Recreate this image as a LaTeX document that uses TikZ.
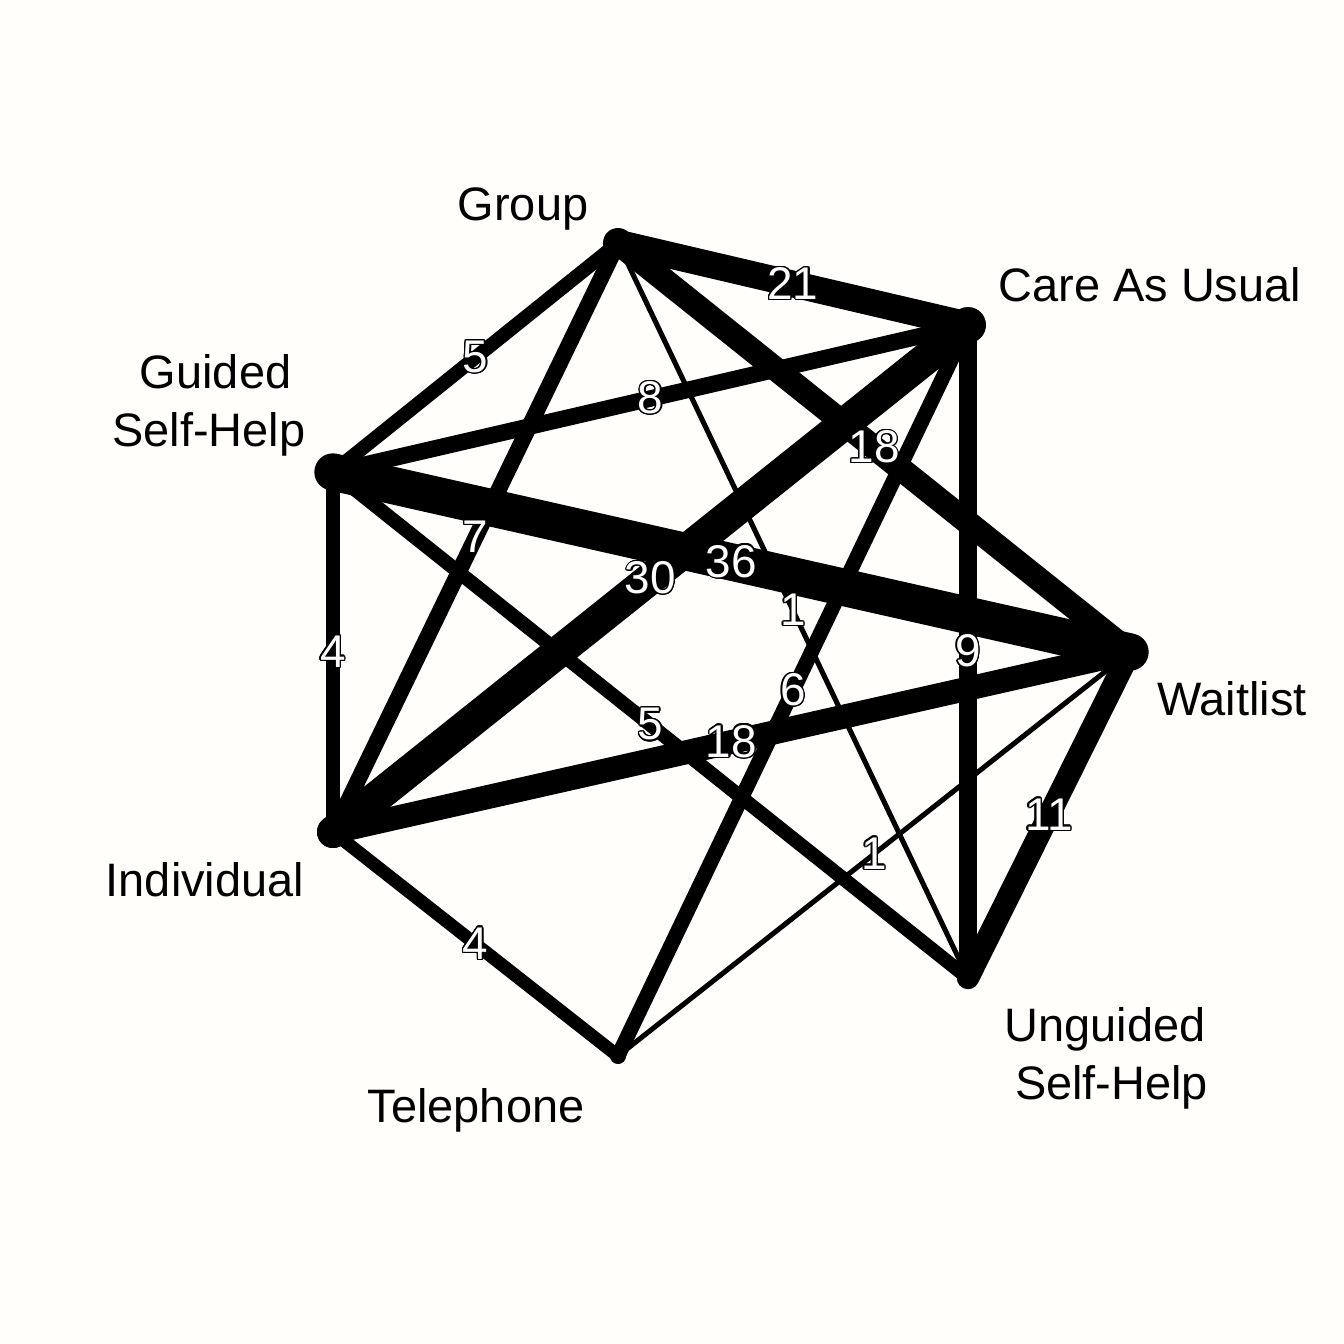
\documentclass[tikz,border=0pt]{standalone}
\usepackage{fontspec}
\setmainfont{Liberation Sans}
\usepackage{contour}
\contourlength{0.5pt}
\usetikzlibrary{calc}
\definecolor{paper}{RGB}{255,254,250}

\begin{document}
\begin{tikzpicture}[x=0.375pt, y=-0.375pt, line join=round, line cap=round,
	trt/.style={font=\fontsize{17.6}{21.8}\selectfont, align=center, inner sep=0pt},
	cnt/.style={font=\fontsize{17.2}{18}\selectfont, text=white, inner sep=0pt},
	dot/.style={circle, fill=black, inner sep=0pt, minimum size=#1}]
			\fill[paper] (0,0) rectangle (1344,1344);
			\useasboundingbox (0,0) rectangle (1344,1344);
			% treatments
			\node[dot=11.25pt] (grp) at (618,243) {};
			\node[dot=13.5pt] (cau) at (968,325) {};
			\node[dot=12.75pt] (wl) at (1130,652) {};
			\node[dot=7.5pt] (ush) at (968,978) {};
			\node[dot=6pt] (tel) at (618,1056) {};
			\node[dot=12pt] (ind) at (333,832) {};
			\node[dot=12.75pt] (gsh) at (333,472) {};
			% comparisons
			\foreach \a/\b/\n/\w in {grp/cau/21/10, grp/gsh/5/5.25, grp/ind/7/6, grp/ush/1/1.9,
				grp/wl/18/9, cau/gsh/8/6.2, cau/ind/30/12, cau/tel/6/5.6, cau/ush/9/6.75,
				gsh/wl/36/14, gsh/ind/4/4.9, gsh/ush/5/5.25, ind/wl/18/9, ind/tel/4/4.9,
				tel/wl/1/1.9, wl/ush/11/8.4}
				\draw[line width=\w pt] (\a.center) -- (\b.center);
			\foreach \a/\b/\n/\w in {grp/cau/21/10, grp/gsh/5/5.25, grp/ind/7/6, grp/ush/1/1.9,
				grp/wl/18/9, cau/gsh/8/6.2, cau/ind/30/12, cau/tel/6/5.6, cau/ush/9/6.75,
				gsh/wl/36/14, gsh/ind/4/4.9, gsh/ush/5/5.25, ind/wl/18/9, ind/tel/4/4.9,
				tel/wl/1/1.9, wl/ush/11/8.4}
				\node[cnt] (n-\a-\b) at ($(\a)!0.5!(\b)$) {\contour{black}{\n}};
			% names
			\node[trt] (lgrp) at (523,209) {Group};
			\node[trt, anchor=west] (lcau) at (998,285) {Care As Usual};
			\node[trt] (lwl) at (1232,699) {Waitlist};
			\node[trt] (lush) at (1105,1058) {Unguided\\\hspace*{0.28em}Self-Help};
			\node[trt] (ltel) at (476,1110) {Telephone};
			\node[trt] (lind) at (205,880) {Individual};
			\node[trt] (lgsh) at (209,405) {\hspace*{0.28em}Guided\\Self-Help};
		\end{tikzpicture}
\end{document}
